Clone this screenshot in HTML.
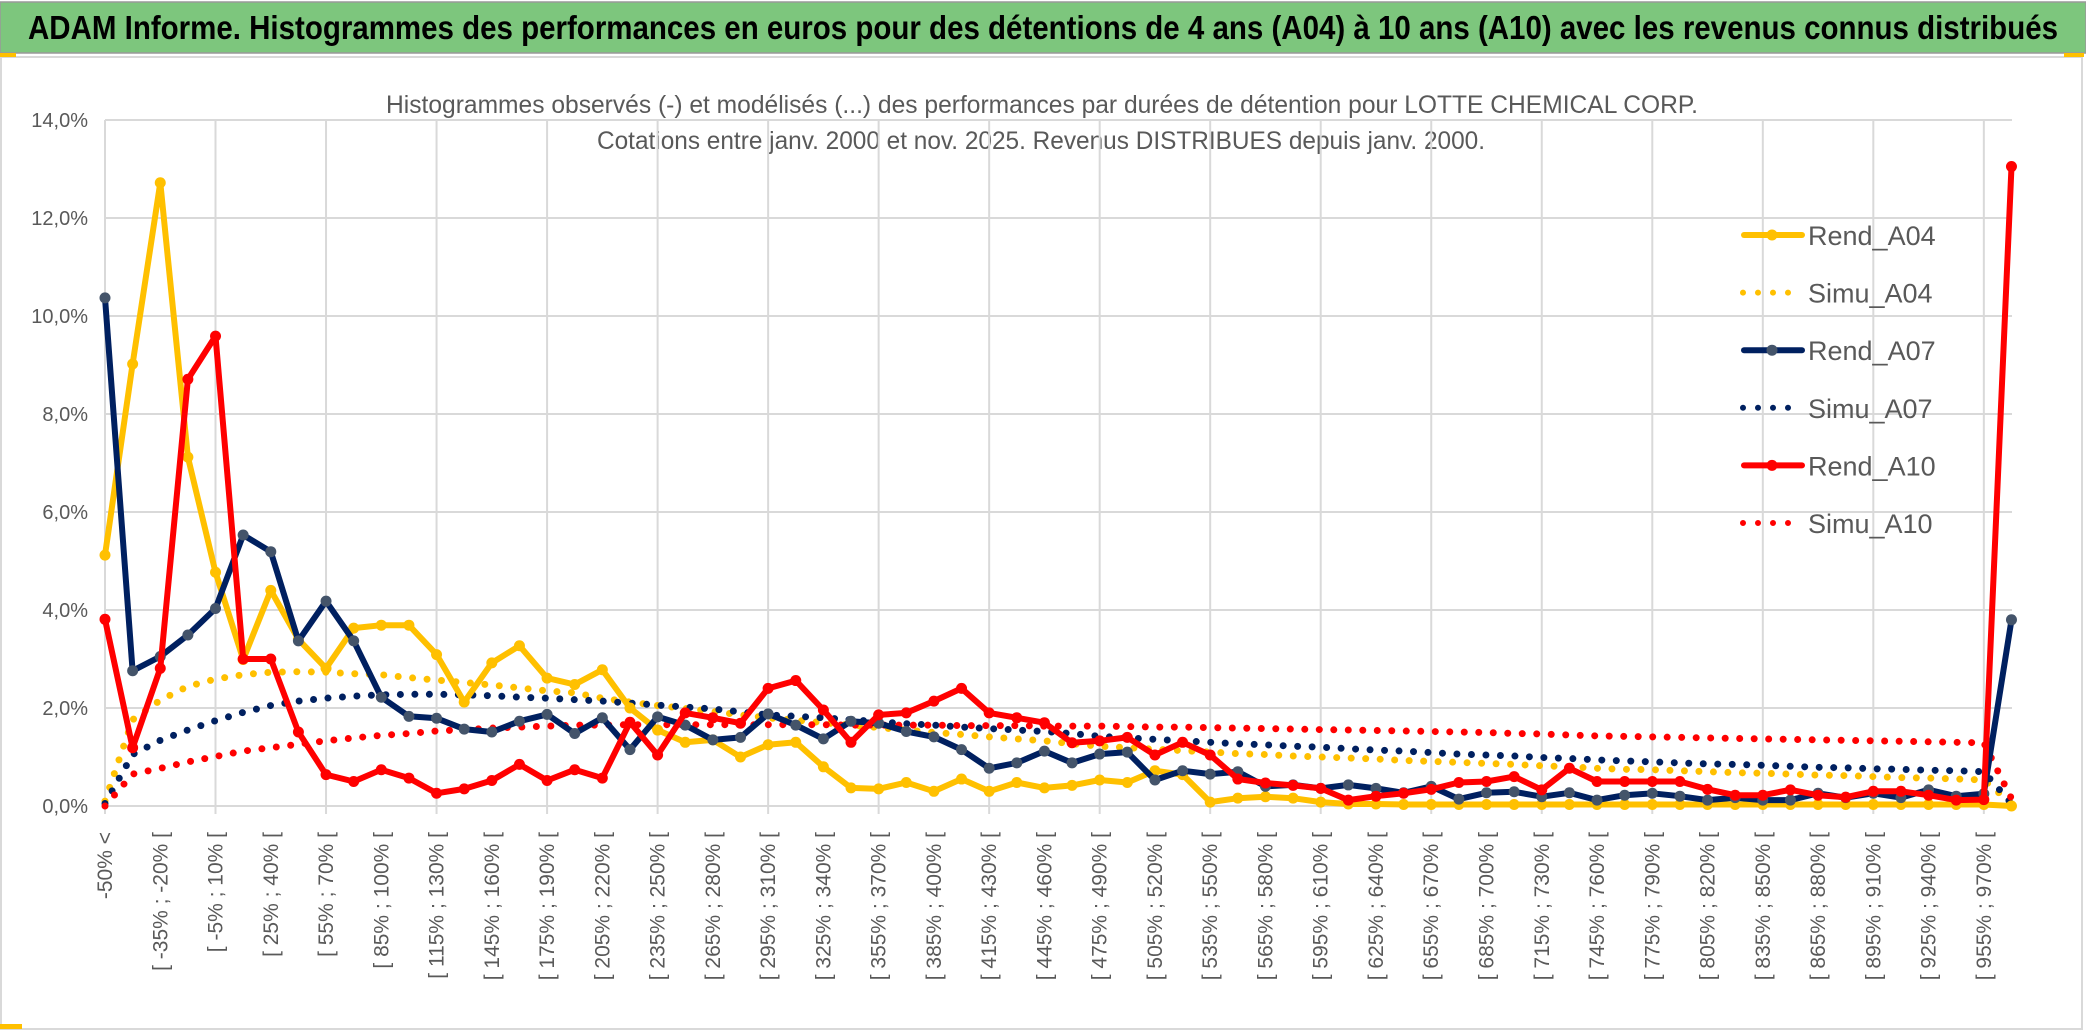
<!DOCTYPE html>
<html><head><meta charset="utf-8"><style>
html,body{margin:0;padding:0;background:#fff;}
svg{display:block;font-family:"Liberation Sans",sans-serif;}
</style></head><body>
<svg id="chart" width="2086" height="1033" viewBox="0 0 2086 1033" xmlns="http://www.w3.org/2000/svg">
<rect x="0" y="0" width="2086" height="1033" fill="#fff"/>
<rect x="0" y="2" width="2086" height="51" fill="#7dc67d" stroke="#999" stroke-width="1.5"/>
<text x="28" y="39" font-size="33" font-weight="bold" fill="#000" textLength="2030" lengthAdjust="spacingAndGlyphs">ADAM Informe. Histogrammes des performances en euros pour des détentions de 4 ans (A04) à 10 ans (A10) avec les revenus connus distribués</text>
<rect x="1" y="57" width="2081" height="972" fill="none" stroke="#d9d9d9" stroke-width="2"/>
<rect x="0" y="53" width="16" height="4" fill="#ffc000"/>
<rect x="2064" y="53" width="20" height="4" fill="#ffc000"/>
<rect x="0" y="1024" width="22" height="5" fill="#ffc000"/>
<text x="386" y="113" font-size="25" fill="#595959" textLength="1312" lengthAdjust="spacingAndGlyphs">Histogrammes observés (-) et modélisés (...) des performances par durées de détention pour LOTTE CHEMICAL CORP.</text>
<text x="597" y="149" font-size="25" fill="#595959" textLength="888" lengthAdjust="spacingAndGlyphs">Cotations entre janv. 2000 et nov. 2025. Revenus DISTRIBUES depuis janv. 2000.</text>
<g id="grid"></g>
<g id="yaxis"></g>
<g id="xaxis"></g>
<g id="series"></g>
<g id="legend"></g>
</svg>
<script>
// ---- data ----
const yTicks = [0, 2, 4, 6, 8, 10, 12, 14];
const rendA04 = [5.12,9.02,12.72,7.12,4.77,2.99,4.4,3.4,2.81,3.63,3.69,3.69,3.09,2.12,2.92,3.27,2.61,2.48,2.78,2.0,1.55,1.3,1.35,1.0,1.25,1.3,0.8,0.37,0.35,0.48,0.3,0.55,0.3,0.48,0.37,0.42,0.53,0.48,0.72,0.64,0.08,0.16,0.19,0.16,0.08,0.04,0.04,0.03,0.03,0.03,0.03,0.03,0.03,0.03,0.03,0.03,0.03,0.03,0.03,0.03,0.03,0.03,0.03,0.03,0.03,0.03,0.03,0.03,0.03,0.0];
const simuA04 = [0.1,1.76,2.16,2.44,2.59,2.68,2.73,2.74,2.73,2.7,2.68,2.62,2.57,2.52,2.47,2.41,2.35,2.31,2.2,2.12,2.05,1.99,1.93,1.86,1.8,1.75,1.7,1.65,1.6,1.55,1.5,1.46,1.41,1.37,1.33,1.27,1.22,1.19,1.16,1.13,1.1,1.07,1.05,1.02,1.0,0.98,0.96,0.93,0.91,0.89,0.87,0.85,0.82,0.8,0.77,0.75,0.74,0.72,0.7,0.68,0.67,0.65,0.63,0.62,0.6,0.58,0.57,0.55,0.53,0.05];
const rendA07 = [10.37,2.76,3.05,3.49,4.03,5.53,5.19,3.37,4.18,3.37,2.22,1.83,1.79,1.57,1.51,1.73,1.87,1.48,1.8,1.15,1.82,1.65,1.35,1.4,1.88,1.65,1.37,1.73,1.69,1.52,1.41,1.15,0.77,0.88,1.12,0.88,1.06,1.1,0.53,0.72,0.65,0.7,0.4,0.43,0.36,0.43,0.36,0.27,0.4,0.14,0.27,0.29,0.19,0.27,0.12,0.22,0.26,0.2,0.12,0.17,0.12,0.12,0.26,0.17,0.26,0.17,0.33,0.2,0.25,3.8];
const simuA07 = [0.05,1.05,1.34,1.55,1.74,1.91,2.05,2.14,2.2,2.24,2.27,2.28,2.28,2.27,2.25,2.22,2.2,2.17,2.14,2.1,2.06,2.02,1.98,1.92,1.86,1.83,1.8,1.76,1.72,1.68,1.65,1.61,1.58,1.55,1.52,1.48,1.42,1.39,1.36,1.33,1.3,1.27,1.25,1.22,1.2,1.17,1.14,1.12,1.09,1.06,1.04,1.02,0.99,0.97,0.94,0.92,0.9,0.88,0.86,0.85,0.83,0.81,0.79,0.78,0.76,0.75,0.73,0.72,0.7,0.05];
const rendA10 = [3.81,1.19,2.81,8.71,9.59,3.0,3.0,1.51,0.64,0.5,0.74,0.57,0.26,0.35,0.52,0.85,0.52,0.74,0.57,1.71,1.04,1.9,1.8,1.69,2.4,2.56,1.96,1.3,1.86,1.9,2.14,2.4,1.9,1.8,1.7,1.29,1.33,1.4,1.04,1.3,1.04,0.55,0.47,0.42,0.36,0.12,0.2,0.26,0.34,0.48,0.5,0.6,0.33,0.77,0.5,0.5,0.5,0.5,0.34,0.22,0.22,0.33,0.22,0.18,0.3,0.3,0.22,0.12,0.13,13.05];
const simuA10 = [0.0,0.65,0.77,0.9,1.01,1.12,1.19,1.26,1.33,1.39,1.44,1.48,1.53,1.56,1.59,1.61,1.63,1.65,1.65,1.66,1.66,1.66,1.66,1.66,1.66,1.66,1.66,1.65,1.65,1.65,1.65,1.64,1.64,1.64,1.63,1.63,1.63,1.62,1.61,1.61,1.6,1.59,1.58,1.57,1.56,1.55,1.54,1.53,1.52,1.51,1.5,1.48,1.47,1.45,1.43,1.42,1.41,1.4,1.39,1.38,1.37,1.36,1.35,1.34,1.33,1.32,1.31,1.3,1.29,0.15];
const nCat = 70;
const catLower = -50, catStep = 15;

// ---- scales ----
const X0 = 105, XSTEP = 27.63, Y0 = 806, YPX = 49; // px per 1%
function xs(i){ return X0 + i*XSTEP; }
function ys(v){ return Y0 - v*YPX; }
const NS = "http://www.w3.org/2000/svg";
function mk(tag, attrs, parent){ const e=document.createElementNS(NS,tag); for(const k in attrs) e.setAttribute(k,attrs[k]); parent.appendChild(e); return e; }
function catLabel(i){
  if(i===0) return "-50% <";
  if(i===nCat-1) return ">= 970%";
  const lo = catLower + catStep*(i-1);
  return "[ " + lo + "% ; " + (lo+catStep) + "% [";
}

// grid
const grid = document.getElementById('grid');
yTicks.forEach(t=>{
  const l = mk('line',{x1:xs(0),x2:2012,y1:ys(t),y2:ys(t),stroke:'#d9d9d9','stroke-width':2},grid);
  
  
});
for(let i=0;i<nCat;i+=4){
  const l = mk('line',{x1:xs(i),x2:xs(i),y1:ys(14),y2:ys(0)+8,stroke:'#d9d9d9','stroke-width':2},grid);
  
  
}
// y axis labels
const ya = document.getElementById('yaxis');
yTicks.forEach(t=>{
  const tx = mk('text',{x:88,y:ys(t)+7,'text-anchor':'end','font-size':20,fill:'#595959'},ya);
  tx.textContent = t.toFixed(1).replace('.',',')+'%';
  
  
});
// x axis labels
const xa = document.getElementById('xaxis');
for(let i=0;i<nCat-1;i+=2){
  const x = xs(i)+7, y = 832;
  const tx = mk('text',{x:x,y:y,'text-anchor':'end','font-size':21,fill:'#595959',transform:'rotate(-90 '+x+' '+y+')'},xa);
  tx.textContent = catLabel(i);
  
  
}
// series
const sg = document.getElementById('series');
function pts(arr){ return arr.map((v,i)=>xs(i).toFixed(1)+','+ys(v).toFixed(1)).join(' '); }
function dotted(arr,color,name){
  const p = mk('polyline',{points:pts(arr),fill:'none',stroke:color,'stroke-width':7,'stroke-linecap':'round','stroke-dasharray':'0 14.5'},sg);
  
  
}
function solid(arr,color,mcolor,name){
  const p = mk('polyline',{points:pts(arr),fill:'none',stroke:color,'stroke-width':6,'stroke-linejoin':'round'},sg);
  
  
  arr.forEach((v,i)=>{
    const c = mk('circle',{cx:xs(i),cy:ys(v),r:5.5,fill:mcolor},sg);
    
    
  });
}
dotted(simuA04,'#ffc000','simu-a04-line');
dotted(simuA07,'#002060','simu-a07-line');
dotted(simuA10,'#ff0000','simu-a10-line');
solid(rendA04,'#ffc000','#ffc000','rend-a04-line');
solid(rendA07,'#002060','#44546a','rend-a07-line');
solid(rendA10,'#ff0000','#ff0000','rend-a10-line');
// legend
const lg = document.getElementById('legend');
const legNames = ['Rend_A04','Simu_A04','Rend_A07','Simu_A07','Rend_A10','Simu_A10'];
const legColors = ['#ffc000','#ffc000','#002060','#002060','#ff0000','#ff0000'];
const legMarker = ['#ffc000',null,'#44546a',null,'#ff0000',null];
legNames.forEach((n,k)=>{
  const y = 235 + k*57.6;
  const g = mk('g',{},lg);
  
  
  if(legMarker[k]){
    mk('line',{x1:1744,x2:1802,y1:y,y2:y,stroke:legColors[k],'stroke-width':6,'stroke-linecap':'round'},g);
    mk('circle',{cx:1772,cy:y,r:5.5,fill:legMarker[k]},g);
  } else {
    mk('line',{x1:1743,x2:1800,y1:y,y2:y,stroke:legColors[k],'stroke-width':6,'stroke-linecap':'round','stroke-dasharray':'0 15'},g);
  }
  const t = mk('text',{x:1808,y:y+10,'font-size':27,fill:'#595959'},g);
  t.textContent = n;
});
</script>
</body></html>
